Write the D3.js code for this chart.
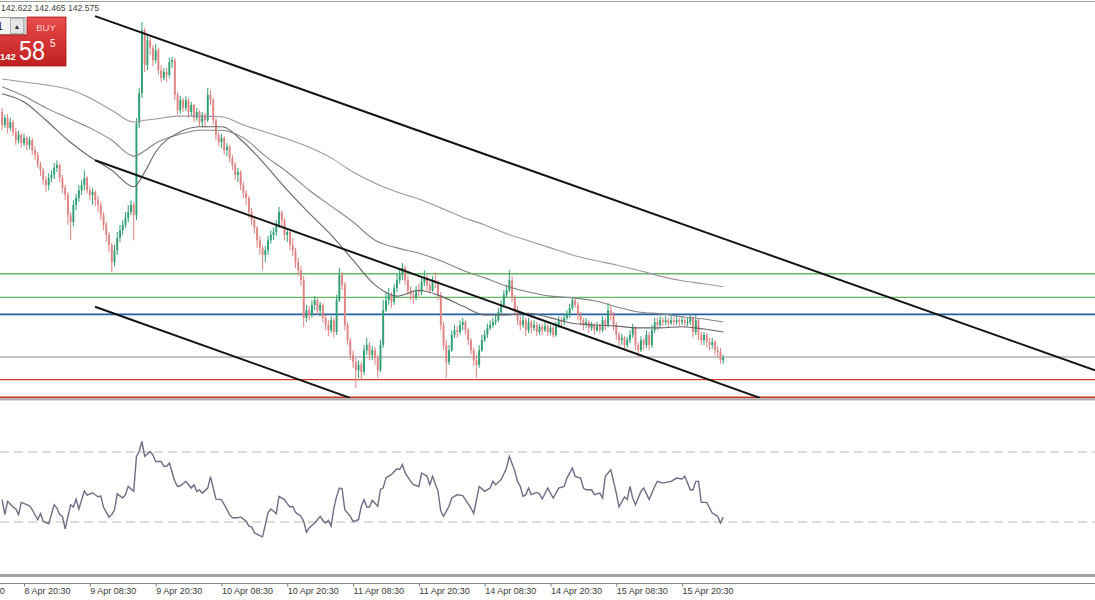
<!DOCTYPE html>
<html><head><meta charset="utf-8">
<script src="https://cdn.jsdelivr.net/npm/d3@7"></script>
<style>
html,body{margin:0;padding:0;background:#fff;overflow:hidden}
svg{display:block}
text{font-family:"Liberation Sans",Arial,sans-serif}
</style></head><body>
<svg id="c" width="1095" height="600"></svg>
<script>
// ---------- DATA (USDJPY M30) ----------
const firstOpen = 146.75;
const closes = [
146.53,146.65,146.48,146.58,146.41,146.27,146.36,146.22,146.31,146.19,
146.27,146.10,146.02,145.85,145.76,145.59,145.51,145.63,145.68,145.80,
145.85,145.63,145.46,145.34,145.00,144.88,145.17,145.29,145.42,145.51,
145.63,145.42,145.34,145.39,145.25,145.17,145.00,144.83,144.66,144.49,
144.20,144.40,144.61,144.74,144.83,144.95,145.05,145.17,145.00,146.56,
147.07,148.14,147.55,147.97,147.84,147.63,147.80,147.46,147.33,147.43,
147.38,147.60,147.63,147.04,146.78,146.95,146.82,146.95,146.75,146.87,
146.65,146.75,146.58,146.70,146.61,147.04,146.95,146.61,146.36,146.24,
146.31,146.10,146.16,145.97,145.85,145.68,145.73,145.51,145.37,145.29,
145.05,144.91,144.78,144.57,144.44,144.32,144.40,144.57,144.66,144.71,
144.83,145.05,144.91,144.66,144.71,144.49,144.40,144.20,144.06,143.89,
143.25,143.38,143.30,143.47,143.55,143.38,143.47,143.25,143.13,143.04,
143.21,143.01,143.55,143.98,143.81,143.13,142.87,142.62,142.50,142.36,
142.45,142.33,142.70,142.79,142.62,142.70,142.57,142.36,142.79,143.38,
143.55,143.64,143.52,143.76,143.89,143.98,144.10,143.89,143.72,143.64,
143.59,143.72,143.69,143.86,143.93,143.81,143.72,143.89,143.86,143.64,
143.13,142.79,142.50,142.70,142.96,143.04,143.01,143.13,143.18,143.04,
142.87,142.70,142.53,142.45,142.70,142.87,142.96,143.08,143.13,143.18,
143.21,143.35,143.47,143.64,143.72,143.89,143.59,143.38,143.21,143.13,
143.21,143.04,143.18,143.08,143.13,143.01,143.10,143.04,143.11,143.01,
143.08,142.96,143.13,143.21,143.18,143.25,143.30,143.42,143.55,143.47,
143.30,143.21,143.13,143.18,143.08,143.13,143.04,143.11,143.04,143.21,
143.13,143.38,143.30,143.13,142.96,142.87,142.91,142.79,142.87,142.96,
143.08,142.79,142.70,142.87,142.79,142.96,142.79,143.04,143.18,143.13,
143.21,143.18,143.21,143.16,143.21,143.18,143.21,143.18,143.21,143.16,
143.18,143.25,143.01,143.21,142.96,142.87,142.96,142.84,142.79,142.84,
142.70,142.67,142.53,142.575];
const highs = [
146.82,146.70,146.72,146.65,146.61,146.48,146.43,146.39,146.38,146.34,
146.33,146.31,146.17,146.07,145.90,145.80,145.66,145.71,145.76,145.88,
145.93,145.88,145.68,145.51,145.39,145.05,145.25,145.36,145.51,145.59,
145.76,145.66,145.49,145.46,145.42,145.32,145.22,145.05,144.88,144.71,
144.52,144.49,144.71,144.83,144.91,145.05,145.17,145.25,145.22,146.65,
147.16,148.28,148.18,148.06,148.04,147.89,147.91,147.84,147.55,147.50,
147.50,147.67,147.69,147.67,147.09,147.02,146.99,147.02,146.99,146.92,
146.89,146.82,146.78,146.75,146.73,147.16,147.12,146.99,146.65,146.41,
146.38,146.34,146.22,146.19,146.02,145.90,145.80,145.76,145.56,145.42,
145.32,145.12,144.97,144.81,144.64,144.49,144.47,144.64,144.74,144.78,
144.91,145.14,145.08,144.95,144.78,144.74,144.61,144.44,144.27,144.13,
143.96,143.47,143.45,143.55,143.62,143.59,143.52,143.50,143.30,143.21,
143.28,143.25,143.64,144.10,144.03,143.86,143.18,142.91,142.70,142.57,
142.53,142.50,142.79,142.91,142.84,142.77,142.76,142.62,142.87,143.55,
143.69,143.76,143.69,143.83,144.00,144.10,144.18,144.13,143.96,143.79,
143.72,143.79,143.83,143.93,144.06,143.98,143.86,143.96,144.03,143.89,
143.69,143.18,142.87,142.79,143.04,143.13,143.11,143.21,143.25,143.21,
143.08,142.91,142.74,142.62,142.79,142.96,143.04,143.15,143.21,143.25,
143.30,143.42,143.55,143.72,143.81,144.06,143.96,143.64,143.45,143.28,
143.30,143.25,143.25,143.21,143.21,143.18,143.15,143.15,143.18,143.15,
143.13,143.11,143.18,143.28,143.26,143.32,143.38,143.49,143.60,143.60,
143.52,143.35,143.25,143.25,143.21,143.18,143.16,143.18,143.15,143.28,
143.25,143.50,143.45,143.35,143.18,143.01,142.98,142.94,142.93,143.04,
143.15,143.11,142.84,142.94,142.91,143.04,143.01,143.13,143.25,143.25,
143.28,143.26,143.28,143.25,143.28,143.26,143.28,143.25,143.28,143.25,
143.25,143.30,143.28,143.30,143.25,143.01,143.01,142.99,142.91,142.91,
142.87,142.77,142.74,142.622];
const lows = [
146.44,146.48,146.39,146.43,146.34,146.19,146.22,146.14,146.17,146.10,
146.12,146.02,145.93,145.80,145.66,145.51,145.39,145.42,145.56,145.61,
145.73,145.56,145.37,145.25,144.83,144.57,144.81,145.08,145.22,145.34,
145.42,145.36,145.25,145.17,145.15,145.05,144.91,144.74,144.54,144.37,
144.03,144.13,144.32,144.54,144.66,144.78,144.88,145.00,144.57,144.91,
146.48,146.99,147.43,147.46,147.72,147.53,147.58,147.38,147.26,147.29,
147.26,147.33,147.50,146.95,146.70,146.72,146.75,146.77,146.65,146.68,
146.58,146.60,146.51,146.49,146.48,146.58,146.87,146.53,146.27,146.17,
146.14,146.02,146.00,145.90,145.76,145.59,145.56,145.42,145.29,145.17,
144.95,144.83,144.68,144.44,144.32,144.06,144.20,144.32,144.51,144.57,
144.64,144.78,144.81,144.57,144.54,144.40,144.30,144.10,143.96,143.79,
143.09,143.18,143.21,143.25,143.38,143.30,143.28,143.18,143.04,142.94,
142.99,142.91,142.96,143.52,143.72,143.04,142.79,142.53,142.40,142.06,
142.23,142.19,142.28,142.62,142.53,142.53,142.45,142.23,142.33,142.74,
143.35,143.47,143.42,143.47,143.69,143.83,143.89,143.81,143.64,143.55,
143.49,143.55,143.60,143.64,143.79,143.72,143.66,143.69,143.76,143.55,
143.04,142.70,142.23,142.45,142.67,142.91,142.91,142.96,143.04,142.96,
142.79,142.62,142.43,142.23,142.40,142.67,142.84,142.91,143.04,143.08,
143.13,143.18,143.30,143.42,143.59,143.69,143.52,143.30,143.13,143.04,
143.08,142.94,142.99,142.98,143.03,142.94,142.96,142.96,143.01,142.94,
142.96,142.91,142.93,143.08,143.11,143.13,143.21,143.25,143.38,143.42,
143.21,143.13,143.04,143.08,142.99,143.03,142.96,143.01,142.98,143.01,
143.04,143.09,143.21,143.04,142.87,142.77,142.79,142.70,142.74,142.82,
142.91,142.70,142.58,142.67,142.70,142.74,142.70,142.74,142.99,143.04,
143.08,143.11,143.13,143.09,143.13,143.11,143.13,143.11,143.13,143.09,
143.11,143.13,142.92,142.96,142.87,142.79,142.79,142.75,142.70,142.72,
142.62,142.57,142.47,142.465];

// moving averages (sampled at bar indices)
const maBars = [0,8,16,24,32,40,48,52,56,64,72,80,88,96,104,112,120,128,136,144,152,160,168,176,184,192,200,208,216,224,232,240,248,256,263];
const maSlow = [147.31,147.26,147.21,147.14,146.99,146.78,146.58,146.61,146.63,146.68,146.68,146.67,146.53,146.41,146.29,146.15,145.97,145.73,145.54,145.39,145.27,145.12,144.96,144.83,144.68,144.56,144.44,144.32,144.23,144.15,144.06,143.96,143.88,143.83,143.78];
const maMid  = [147.18,147.02,146.82,146.65,146.48,146.27,146.00,146.09,146.22,146.36,146.44,146.44,146.31,146.00,145.73,145.42,145.15,144.88,144.57,144.44,144.35,144.22,144.06,143.93,143.79,143.69,143.62,143.59,143.54,143.44,143.35,143.32,143.27,143.23,143.18];
const maFast = [147.06,146.92,146.61,146.27,145.99,145.76,145.48,145.73,146.07,146.39,146.50,146.50,146.24,145.85,145.42,145.03,144.66,144.23,143.81,143.62,143.72,143.62,143.45,143.30,143.30,143.33,143.25,143.16,143.13,143.11,143.08,143.08,143.10,143.06,143.01];

// RSI (bar index, value)
const rsiBars = [0,1,2,4,5,6,7,9,10,11,13,14,15,17,19,20,21,22,23,25,26,27,28,30,31,33,35,36,37,39,40,41,42,44,45,46,48,49,50,51,52,54,55,56,58,59,60,61,63,64,65,67,68,69,70,71,72,73,75,76,78,80,81,83,84,86,87,89,90,91,92,94,95,97,98,99,100,101,103,104,105,106,107,109,110,111,112,114,115,116,117,118,119,120,121,122,123,124,125,127,128,130,131,132,133,134,135,137,138,139,140,141,142,144,145,146,147,149,150,152,153,155,156,157,159,160,161,163,164,166,168,169,171,172,174,176,178,179,180,182,184,185,187,188,189,190,191,192,193,195,196,197,199,200,201,203,205,206,208,209,211,212,213,215,216,218,219,220,222,223,224,225,227,228,229,230,231,233,234,236,238,239,241,244,246,248,249,251,252,253,254,255,257,259,260,261,262,263];
const rsiValues = [42.8,34.2,41.8,38.6,37.4,34.2,41.2,39.9,39.3,37.0,31.3,34.8,30.4,29.0,39.9,38.0,34.2,33.2,26.1,39.9,38.6,43.1,37.4,47.8,45.4,46.7,44.4,44.8,38.4,32.8,34.2,37.0,46.1,43.7,45.6,50.3,47.5,67.5,70.3,76.0,67.5,70.3,68.4,64.6,64.6,61.8,61.8,63.7,53.2,50.3,50.7,53.2,51.3,49.4,51.3,47.5,48.4,46.5,49.4,55.9,43.1,42.8,40.0,34.2,32.4,32.4,32.9,30.4,27.6,27.2,23.8,22.2,21.5,35.2,37.4,36.1,34.8,44.6,42.8,40.5,38.6,39.0,35.6,33.3,30.4,24.1,26.6,29.4,31.3,33.2,30.9,29.4,30.9,27.6,37.9,44.6,49.4,49.0,37.0,33.2,30.4,31.3,39.0,42.8,38.6,38.6,42.4,39.0,48.6,49.5,55.2,56.2,57.2,60.4,60.0,62.9,58.0,53.2,51.3,50.3,58.0,56.1,51.3,56.1,47.5,36.1,33.2,39.0,43.7,45.6,45.1,42.8,38.0,34.8,50.3,47.5,49.4,53.2,51.3,54.2,60.9,67.5,59.0,53.2,50.3,44.6,45.6,49.4,45.6,46.9,46.1,43.1,49.4,46.5,43.7,49.4,50.3,55.1,60.8,56.1,55.1,49.4,48.4,48.4,45.6,46.5,43.7,56.1,59.9,53.2,46.5,38.6,44.4,42.8,50.3,43.7,39.9,47.5,49.4,42.8,50.3,53.2,52.2,53.2,55.1,54.6,56.1,48.4,48.4,53.2,53.2,41.2,41.2,35.1,34.2,33.2,29.4,32.8];
const rsiLevels = [70, 30];

// horizontal levels and trend lines
const levelPrices = [144.00, 143.60, 143.31, 142.585, 142.20, 141.90];
const levelColors = ['#62b866', '#62b866', '#245f9e', '#c4c4c4', '#d23a2c', '#cc3526'];
const trendLines = [
  [[33.9, 148.38], [398.6, 142.36]],
  [[33.9, 145.93], [276.4, 141.89]],
  [[33.9, 143.44], [126.9, 141.89]]
];

// time axis
const tickBars = [-16, 8, 32, 56, 80, 104, 128, 152, 176, 200, 224, 248];
const tickLabels = ['8 Apr 08:30','8 Apr 20:30','9 Apr 08:30','9 Apr 20:30','10 Apr 08:30','10 Apr 20:30','11 Apr 08:30','11 Apr 20:30','14 Apr 08:30','14 Apr 20:30','15 Apr 08:30','15 Apr 20:30'];
const ohlcText = '142.622 142.465 142.575';

// ---------- DRAW ----------
const W = 1095;
const svg = d3.select('#c');
const x = d3.scaleLinear().domain([0, 263]).range([2.1, 723.2]);
const y = d3.scaleLinear().domain([141.888, 148.569]).range([398, 5]);
const yR = d3.scaleLinear().domain([0, 100]).range([574.5, 399.5]);
const UP = '#30a073', DN = '#e08383';

const defs = svg.append('defs');
defs.append('clipPath').attr('id', 'pc').append('rect').attr('x', 0).attr('y', 2).attr('width', W).attr('height', 396);
const grad = defs.append('linearGradient').attr('id', 'rg').attr('x1', 0).attr('y1', 0).attr('x2', 0).attr('y2', 1);
grad.append('stop').attr('offset', '0%').attr('stop-color', '#ea4c4a');
grad.append('stop').attr('offset', '100%').attr('stop-color', '#c01f1f');

svg.append('rect').attr('width', W).attr('height', 600).attr('fill', '#fff');
svg.append('line').attr('x1', 0).attr('x2', W).attr('y1', 1.5).attr('y2', 1.5).attr('stroke', '#a0a0a0').attr('stroke-width', 1);

const pg = svg.append('g').attr('clip-path', 'url(#pc)');

// levels
pg.selectAll('line.lvl').data(levelPrices).join('line').attr('class', 'lvl')
  .attr('x1', 0).attr('x2', W).attr('y1', d => y(d)).attr('y2', d => y(d))
  .attr('stroke', (d, i) => levelColors[i]).attr('stroke-width', (d, i) => i === 3 ? 1.8 : (i === 2 || i === 5 ? 1.6 : 1.3));

// candles
const bars = closes.map((c, i) => {
  const o = i ? closes[i - 1] : firstOpen;
  return { i, o, c, h: Math.max(highs[i], o, c), l: Math.min(lows[i], o, c) };
});
const cg = pg.append('g');
cg.selectAll('line.wick').data(bars).join('line').attr('class', 'wick')
  .attr('x1', d => x(d.i)).attr('x2', d => x(d.i))
  .attr('y1', d => y(d.h)).attr('y2', d => y(d.l))
  .attr('stroke', d => d.c >= d.o ? UP : DN).attr('stroke-width', 1);
cg.selectAll('rect.body').data(bars).join('rect').attr('class', 'body')
  .attr('x', d => x(d.i) - 0.95).attr('width', 1.9)
  .attr('y', d => y(Math.max(d.o, d.c)))
  .attr('height', d => Math.max(1, Math.abs(y(d.o) - y(d.c))))
  .attr('fill', d => d.c >= d.o ? UP : DN);

// moving averages
const maLine = d3.line().x(d => x(d[0])).y(d => y(d[1])).curve(d3.curveMonotoneX);
[[maSlow, '#9e95a6'], [maMid, '#858585'], [maFast, '#666666']].forEach(([arr, col]) => {
  pg.append('path').datum(maBars.map((b, k) => [b, arr[k]]))
    .attr('d', maLine).attr('fill', 'none').attr('stroke', col).attr('stroke-width', 1.1);
});

// trend lines
pg.selectAll('line.tr').data(trendLines).join('line').attr('class', 'tr')
  .attr('x1', d => x(d[0][0])).attr('y1', d => y(d[0][1]))
  .attr('x2', d => x(d[1][0])).attr('y2', d => y(d[1][1]))
  .attr('stroke', '#141414').attr('stroke-width', 2);

// panel separators
svg.append('rect').attr('x', 0).attr('y', 398.2).attr('width', W).attr('height', 2.2).attr('fill', '#a9a9a9');
svg.append('rect').attr('x', 0).attr('y', 574).attr('width', W).attr('height', 3).attr('fill', '#a3a3a3');

// RSI
svg.selectAll('line.rl').data(rsiLevels).join('line').attr('class', 'rl')
  .attr('x1', 0).attr('x2', W).attr('y1', d => yR(d)).attr('y2', d => yR(d))
  .attr('stroke', '#b8b8b8').attr('stroke-width', 1).attr('stroke-dasharray', '9,5');
svg.append('path').datum(rsiBars.map((b, k) => [b, rsiValues[k]]))
  .attr('d', d3.line().x(d => x(d[0])).y(d => yR(d[1])))
  .attr('fill', 'none').attr('stroke', '#6d6d85').attr('stroke-width', 1.4);

// time axis
svg.append('line').attr('x1', 0).attr('x2', W).attr('y1', 583.5).attr('y2', 583.5).attr('stroke', '#8a8a8a');
const ax = svg.append('g').attr('transform', 'translate(0,583.5)')
  .call(d3.axisBottom(x).tickValues(tickBars).tickFormat((d, i) => tickLabels[i]).tickSize(3).tickSizeOuter(0));
ax.select('.domain').remove();
ax.selectAll('.tick line').attr('stroke', '#777');
ax.selectAll('.tick text').attr('text-anchor', 'start').attr('x', 0).attr('y', 4.5)
  .attr('fill', '#3a3a3a').style('font-size', '9px').style('font-family', '"Liberation Sans",Arial,sans-serif');

// OHLC text
svg.append('text').attr('x', 1).attr('y', 11).attr('fill', '#444').style('font-size', '8.6px').text(ohlcText);

// one-click trading widget
const wg = svg.append('g');
wg.append('rect').attr('x', -1).attr('y', 17.5).attr('width', 26).attr('height', 17).attr('fill', '#f3f3f3').attr('stroke', '#9c9c9c');
wg.append('text').attr('x', -3).attr('y', 30).attr('fill', '#222').style('font-size', '11px').text('1');
wg.append('rect').attr('x', 10.5).attr('y', 18.5).attr('width', 13).attr('height', 15).attr('fill', '#e6e6e6').attr('stroke', '#b4b4b4');
wg.append('text').attr('x', 17).attr('y', 28.5).attr('text-anchor', 'middle').attr('fill', '#333').style('font-size', '7px').text('▲');
wg.append('path').attr('d', 'M27,17 H66 V66 H-1 V35 H27 Z').attr('fill', 'url(#rg)').attr('stroke', '#a61818').attr('stroke-width', 0.8);
wg.append('text').attr('x', 46).attr('y', 30.5).attr('text-anchor', 'middle').attr('fill', '#fbd0d0').style('font-size', '9.5px').text('BUY');
wg.append('text').attr('x', 19).attr('y', 60).attr('fill', '#fff').style('font-size', '28px')
  .attr('textLength', 26).attr('lengthAdjust', 'spacingAndGlyphs').text('58');
wg.append('text').attr('x', 50).attr('y', 47).attr('fill', '#fff').style('font-size', '10px').text('5');
wg.append('text').attr('x', 0).attr('y', 60).attr('fill', '#fff').style('font-size', '9.5px').style('font-weight', 'bold').text('142');
</script>
</body></html>
